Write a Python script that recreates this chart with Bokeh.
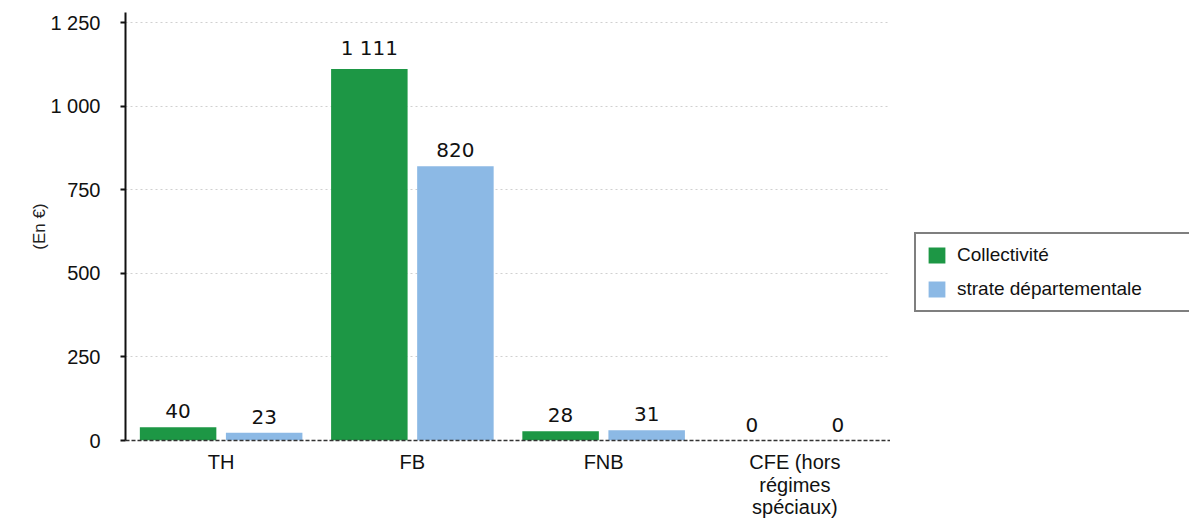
from bokeh.plotting import figure
from bokeh.models import (ColumnDataSource, FactorRange, Range1d, FixedTicker, Legend, LegendItem,
                          CategoricalAxis, CustomJSTickFormatter)
from bokeh.layouts import row
from bokeh.transform import dodge
from bokeh.core.properties import value
from bokeh.embed import file_html
from bokeh.resources import INLINE

categories = ["TH", "FB", "FNB", "CFE (hors régimes spéciaux)"]
label_line1 = ["TH", "FB", "FNB", "CFE (hors"]
label_line2 = ["", "", "", "régimes"]
label_line3 = ["", "", "", "spéciaux)"]
collectivite = [40, 1111, 28, 0]
strate = [23, 820, 31, 0]
y_ticks = [0, 250, 500, 750, 1000, 1250]
series_names = ["Collectivité", "strate départementale"]

def fmt(v):
    return f"{v:,}".replace(",", " ")

src = ColumnDataSource(dict(
    cat=categories,
    col=collectivite,
    strat=strate,
    col_lbl=[fmt(v) for v in collectivite],
    strat_lbl=[fmt(v) for v in strate],
))

p = figure(
    x_range=FactorRange(*categories, range_padding=0),
    y_range=Range1d(0, 1280),
    width=890, height=521,
    output_backend="svg", toolbar_location=None,
    min_border_left=125, min_border_right=0, min_border_top=12, min_border_bottom=81,
)
p.outline_line_color = None
p.background_fill_color = "white"
p.border_fill_color = "white"

green = "#1d9745"
blue = "#8cb9e5"

r1 = p.vbar(x=dodge("cat", -0.225, range=p.x_range), top="col", width=0.4, source=src,
            fill_color=green, line_color=None)
r2 = p.vbar(x=dodge("cat", 0.225, range=p.x_range), top="strat", width=0.4, source=src,
            fill_color=blue, line_color=None)

for xoff, lbl, ycol in [(-0.225, "col_lbl", "col"), (0.225, "strat_lbl", "strat")]:
    p.text(x=dodge("cat", xoff, range=p.x_range), y=ycol, text=lbl, source=src,
           y_offset=-9, text_align="center", text_baseline="bottom",
           text_font=value("DejaVu Sans"), text_font_size="20px", text_color="#111111")

# Y axis
p.yaxis.ticker = FixedTicker(ticks=y_ticks)
p.yaxis.major_label_overrides = {t: fmt(t) for t in y_ticks}
p.yaxis.axis_line_color = "#111111"
p.yaxis.axis_line_width = 2
p.yaxis.major_tick_out = 5
p.yaxis.major_tick_in = 0
p.yaxis.major_tick_line_color = "#111111"
p.yaxis.major_tick_line_width = 2
p.yaxis.minor_tick_line_color = None
p.yaxis.major_label_standoff = 20
p.yaxis.major_label_text_font = "Liberation Sans"
p.yaxis.major_label_text_font_size = "20px"
p.yaxis.major_label_text_color = "#111111"
p.yaxis.axis_label = "(En €)"
p.yaxis.axis_label_text_font = "Liberation Sans"
p.yaxis.axis_label_text_font_style = "normal"
p.yaxis.axis_label_text_font_size = "17px"
p.yaxis.axis_label_text_color = "#222222"
p.yaxis.axis_label_standoff = -2

def line_formatter(lines):
    return CustomJSTickFormatter(args=dict(m=dict(zip(categories, lines))),
                                 code="const v = m[tick]; return v === undefined ? '' : v;")

# X axis (first line of labels)
xa = p.xaxis[0]
xa.axis_line_color = "#333333"
xa.axis_line_dash = "4 2"
xa.axis_line_width = 1.5
xa.major_tick_line_color = None
xa.minor_tick_line_color = None
xa.major_label_standoff = 4
xa.major_label_text_font = "Liberation Sans"
xa.major_label_text_font_size = "20px"
xa.major_label_text_color = "#111111"
xa.formatter = line_formatter(label_line1)

for lines, so in ((label_line2, -8), (label_line3, -9)):
    ax = CategoricalAxis(
        axis_line_color=None, major_tick_line_color=None, minor_tick_line_color=None,
        major_label_standoff=so,
        major_label_text_font="Liberation Sans", major_label_text_font_size="20px",
        major_label_text_color="#111111",
        formatter=line_formatter(lines),
    )
    p.add_layout(ax, "below")

# Grid
p.xgrid.grid_line_color = None
p.ygrid.ticker = FixedTicker(ticks=y_ticks[1:])
p.ygrid.grid_line_color = "#d0d0d0"
p.ygrid.grid_line_dash = "2 3"
p.ygrid.grid_line_width = 1

# Legend panel (zero-height proxy bars only carry the legend colours)
p2 = figure(width=299, height=521, x_range=(0, 1), y_range=(0, 1),
            x_axis_type=None, y_axis_type=None,
            output_backend="svg", toolbar_location=None, min_border=0)
p2.outline_line_color = None
p2.grid.visible = False
l1 = p2.vbar(x=[0.5], top=[0], bottom=[0], width=0.0, fill_color=green, line_color=None)
l2 = p2.vbar(x=[0.5], top=[0], bottom=[0], width=0.0, fill_color=blue, line_color=None)

legend = Legend(
    items=[LegendItem(label=series_names[0], renderers=[l1]),
           LegendItem(label=series_names[1], renderers=[l2])],
    location=(24, 128),
    orientation="vertical",
    border_line_color="#000000", border_line_width=2,
    background_fill_color="white", background_fill_alpha=1,
    padding=10, spacing=12, margin=0,
    glyph_height=20, glyph_width=21, label_height=20, label_width=230,
    label_standoff=10,
    label_text_font="Liberation Sans", label_text_font_size="19px",
    label_text_color="#111111",
)
p2.add_layout(legend, "center")

layout = row(p, p2, spacing=0)
open("out.html", "w").write(file_html(layout, INLINE))
